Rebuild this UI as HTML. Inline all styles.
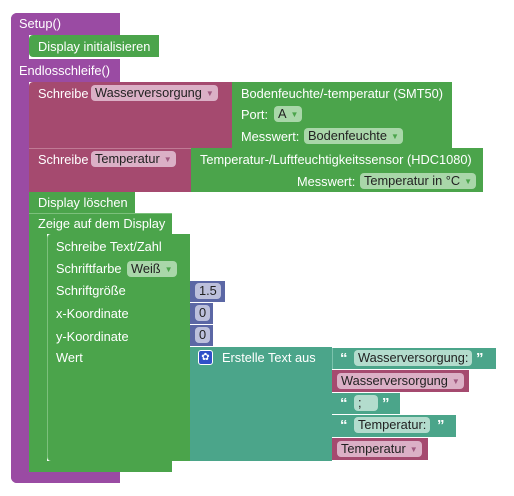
<!DOCTYPE html>
<html><head><meta charset="utf-8"><style>
body{margin:0;width:514px;height:496px;background:#fff;position:relative;overflow:hidden;font-family:"Liberation Sans",sans-serif;font-size:12.8px;color:#fff}
.b{position:absolute;box-sizing:border-box}
.p{background:#9a4ba3}
.m{background:#a54a6f}
.g{background:#4ba44b}
.t{background:#4ba58a}
.u{background:#5b67a5}
.l{position:absolute;white-space:nowrap;line-height:14px}
.f{position:absolute;box-sizing:border-box;height:16px;line-height:16px;border-radius:4px;padding:0 4px;color:#222;white-space:nowrap}
.fm{background:#dbb0c6}
.fg{background:#a9d7a9}
.ft{background:#b3dccd}
.fu{background:#bcc0dc}
.ar{font-size:8px;margin-left:4px;vertical-align:1px}
.ar.m1{color:#a05a80}.ar.g1{color:#4ba44b}
.q{position:absolute;font-weight:bold;font-size:15px;color:#fff;line-height:14px}
</style></head><body>
<div class="b p" style="left:11px;top:13px;width:18px;height:470px;border-radius:6px 0 0 6px"></div>
<div class="b p" style="left:11px;top:13px;width:109px;height:22px;border-radius:6px 0 0 0"></div>
<div class="b p" style="left:11px;top:59px;width:109px;height:23px"></div>
<div class="b p" style="left:11px;top:472px;width:109px;height:11px;border-radius:0 0 0 6px"></div>
<div class="l" style="left:19px;top:17px">Setup()</div>
<div class="l" style="left:19px;top:64px">Endlosschleife()</div>
<div class="b g" style="left:29px;top:35px;width:130px;height:22px;border-radius:4px 0 0 4px"></div>
<div class="l" style="left:38px;top:40px">Display initialisieren</div>
<div class="b m" style="left:29px;top:82px;width:203px;height:66px;border-radius:4px 0 0 0"></div>
<div class="l" style="left:38px;top:87px">Schreibe</div>
<div class="f fm" style="left:91px;top:85px">Wasserversorgung<span class="ar m1">▼</span></div>
<div class="b g" style="left:232px;top:82px;width:220px;height:66px"></div>
<div class="l" style="left:241px;top:87px">Bodenfeuchte/-temperatur (SMT50)</div>
<div class="l" style="left:241px;top:108px">Port:</div>
<div class="f fg" style="left:274px;top:106px">A<span class="ar g1">▼</span></div>
<div class="l" style="left:241px;top:130px">Messwert:</div>
<div class="f fg" style="left:304px;top:128px">Bodenfeuchte<span class="ar g1">▼</span></div>
<div class="b m" style="left:29px;top:148px;width:162px;height:44px;border-top:1px solid #c07a95"></div>
<div class="l" style="left:38px;top:153px">Schreibe</div>
<div class="f fm" style="left:91px;top:151px">Temperatur<span class="ar m1">▼</span></div>
<div class="b g" style="left:191px;top:148px;width:292px;height:44px"></div>
<div class="l" style="left:200px;top:153px">Temperatur-/Luftfeuchtigkeitssensor (HDC1080)</div>
<div class="l" style="left:297px;top:175px">Messwert:</div>
<div class="f fg" style="left:360px;top:173px">Temperatur in °C<span class="ar g1">▼</span></div>
<div class="b g" style="left:29px;top:192px;width:106px;height:21px"></div>
<div class="l" style="left:38px;top:196px">Display löschen</div>
<div class="b g" style="left:29px;top:213px;width:143px;height:21px;border-top:1px solid #7cc07c"></div>
<div class="b g" style="left:29px;top:234px;width:18px;height:238px"></div>
<div class="b g" style="left:29px;top:461px;width:143px;height:11px;border-radius:0 0 0 4px"></div>
<div class="l" style="left:38px;top:217px">Zeige auf dem Display</div>
<div class="b g" style="left:47px;top:234px;width:143px;height:227px;border-radius:4px 0 0 4px;border-left:1px solid #7cc07c"></div>
<div class="l" style="left:56px;top:240px">Schreibe Text/Zahl</div>
<div class="l" style="left:56px;top:262px">Schriftfarbe</div>
<div class="f fg" style="left:127px;top:261px">Weiß<span class="ar g1">▼</span></div>
<div class="l" style="left:56px;top:284px">Schriftgröße</div>
<div class="l" style="left:56px;top:307px">x-Koordinate</div>
<div class="l" style="left:56px;top:330px">y-Koordinate</div>
<div class="l" style="left:56px;top:351px">Wert</div>
<div class="b u" style="left:190px;top:281px;width:35px;height:21px"></div>
<div class="f fu" style="left:195px;top:283px">1.5</div>
<div class="b u" style="left:190px;top:303px;width:23px;height:21px"></div>
<div class="f fu" style="left:195px;top:305px">0</div>
<div class="b u" style="left:190px;top:325px;width:23px;height:21px"></div>
<div class="f fu" style="left:195px;top:327px">0</div>
<div class="b t" style="left:190px;top:347px;width:142px;height:114px"></div>
<div class="b" style="left:198px;top:350px;width:15px;height:15px;background:#3050c8;border-radius:3px;border:1px solid #fff;color:#fff;font-size:10px;line-height:13px;text-align:center">✿</div>
<div class="l" style="left:222px;top:351px">Erstelle Text aus</div>
<div class="b t" style="left:332px;top:348px;width:164px;height:21px;border-left:1px solid #7cc3ad"></div>
<div class="q" style="left:340px;top:352px">“</div>
<div class="f ft" style="left:354px;top:350px">Wasserversorgung:</div>
<div class="q" style="left:476px;top:352px">”</div>
<div class="b m" style="left:332px;top:370px;width:137px;height:22px"></div>
<div class="f fm" style="left:337px;top:373px">Wasserversorgung<span class="ar m1">▼</span></div>
<div class="b t" style="left:332px;top:393px;width:68px;height:21px"></div>
<div class="q" style="left:340px;top:397px">“</div>
<div class="f ft" style="left:354px;top:395px;width:24px">;</div>
<div class="q" style="left:382px;top:397px">”</div>
<div class="b t" style="left:332px;top:415px;width:124px;height:22px"></div>
<div class="q" style="left:340px;top:419px">“</div>
<div class="f ft" style="left:354px;top:417px">Temperatur:</div>
<div class="q" style="left:437px;top:419px">”</div>
<div class="b m" style="left:332px;top:438px;width:96px;height:22px"></div>
<div class="f fm" style="left:337px;top:441px">Temperatur<span class="ar m1">▼</span></div>
</body></html>
